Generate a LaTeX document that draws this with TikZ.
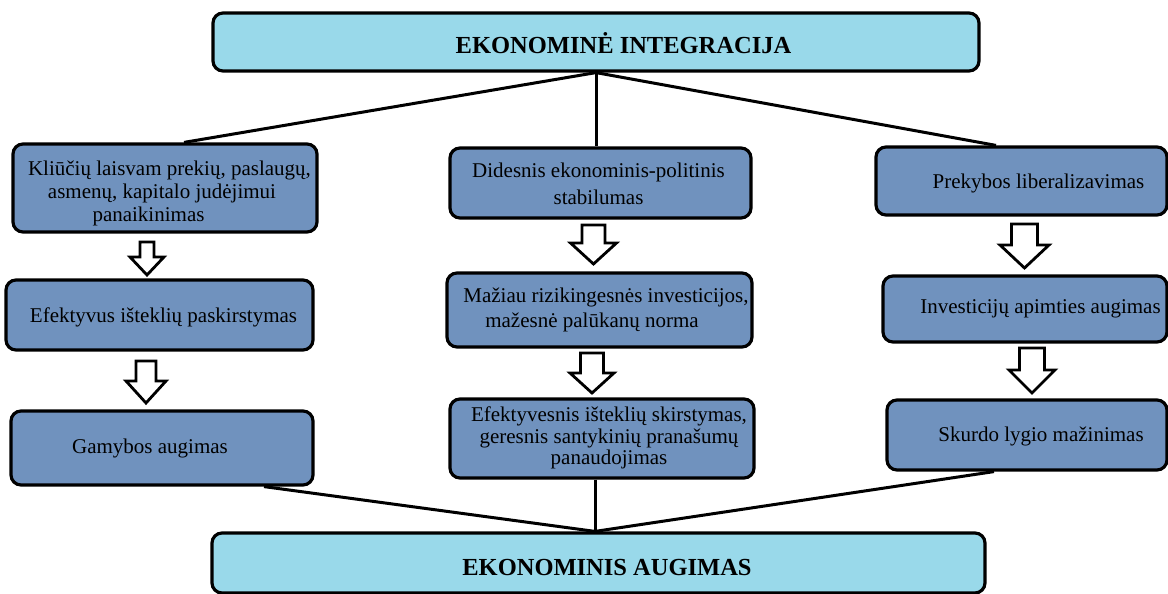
\documentclass[tikz,border=0pt]{standalone}
\usepackage{fontspec}
\setmainfont{Liberation Serif}
\usetikzlibrary{calc}
\definecolor{lightbox}{RGB}{153,217,234}
\definecolor{midbox}{RGB}{112,146,190}
\tikzset{
  bigbox/.style={draw=black, line width=3.2pt, rounded corners=10pt, fill=lightbox, inner sep=0pt},
  smallbox/.style={draw=black, line width=3.2pt, rounded corners=10pt, fill=midbox, inner sep=0pt},
  txt/.style={inner sep=0pt, align=center, font=\fontsize{21}{23}\selectfont},
  ttl/.style={inner sep=0pt, font=\fontsize{24.5}{26}\selectfont\bfseries},
  conn/.style={draw=black, line width=3pt},
  barrowstyle/.style={draw=black, fill=white, line width=2.8pt, line join=miter}
}
\newcommand{\barrow}[6]{%
  \draw[barrowstyle] (#1-#5,#2) -- (#1+#5,#2) -- (#1+#5,#3) -- (#1+#6,#3) -- (#1,#4) -- (#1-#6,#3) -- (#1-#5,#3) -- cycle;}
\begin{document}
\begin{tikzpicture}[x=1pt,y=-1pt]
\useasboundingbox[fill=white] (0,0) rectangle (1168,594);

% boxes
\node[bigbox, minimum width=766pt, minimum height=58pt] (top) at (596,42) {};
\node[bigbox, minimum width=773pt, minimum height=60pt] (bot) at (598.5,563) {};

\node[smallbox, minimum width=304pt, minimum height=88pt] (L1) at (165,188) {};
\node[smallbox, minimum width=307pt, minimum height=70pt] (L2) at (159.5,315) {};
\node[smallbox, minimum width=302pt, minimum height=74pt] (L3) at (162,448) {};

\node[smallbox, minimum width=301pt, minimum height=70pt] (M1) at (600.5,183) {};
\node[smallbox, minimum width=305pt, minimum height=74pt] (M2) at (599.5,310) {};
\node[smallbox, minimum width=304pt, minimum height=79pt] (M3) at (602,438.5) {};

\node[smallbox, minimum width=291pt, minimum height=68pt] (R1) at (1021.5,181) {};
\node[smallbox, minimum width=284pt, minimum height=66pt] (R2) at (1025,309) {};
\node[smallbox, minimum width=280pt, minimum height=70pt] (R3) at (1027,435) {};

% texts
\node[ttl] (topt) at ($(top.center)+(27.5,1)$) {EKONOMINĖ INTEGRACIJA};
\node[ttl] (bott) at ($(bot.center)+(8.5,4.5)$) {EKONOMINIS AUGIMAS};

\node[txt] (L1t) at ($(L1.center)+(-3,5)$) {\hspace*{15pt}Kliūčių laisvam prekių, paslaugų,\\asmenų, kapitalo judėjimui\\panaikinimas\hspace*{27pt}};
\node[txt] (L2t) at ($(L2.center)+(4,2)$) {Efektyvus išteklių paskirstymas};
\node[txt] (L3t) at ($(L3.center)+(-12,0)$) {Gamybos augimas};

\node[txt, font=\fontsize{21}{27}\selectfont] (M1t) at ($(M1.center)+(-2,0.5)$) {Didesnis ekonominis-politinis\\stabilumas};
\node[txt, font=\fontsize{21}{25}\selectfont] (M2t) at ($(M2.center)+(-0.5,-0.5)$) {\hspace*{14pt}Mažiau rizikingesnės investicijos,\\mažesnė palūkanų norma\hspace*{14pt}};
\node[txt, font=\fontsize{21}{21.5}\selectfont] (M3t) at ($(M3.center)+(7,-0.5)$) {Efektyvesnis išteklių skirstymas,\\geresnis santykinių pranašumų\\panaudojimas};

\node[txt] (R1t) at ($(R1.center)+(17,2)$) {Prekybos liberalizavimas};
\node[txt] (R2t) at ($(R2.center)+(15.5,0)$) {Investicijų apimties augimas};
\node[txt] (R3t) at ($(R3.center)+(14,1)$) {Skurdo lygio mažinimas};

% connectors
\coordinate (J) at ([xshift=-3.5pt]bot.north);
\draw[conn] (top.south) -- ([xshift=19pt]L1.north);
\draw[conn] (top.south) -- ([xshift=-4.5pt]M1.north);
\draw[conn] (top.south) -- ([xshift=-25.5pt]R1.north);
\draw[conn] ([xshift=102pt]L3.south) -- (J);
\draw[conn] ([xshift=-7pt]M3.south) -- (J);
\draw[conn] ([xshift=-33pt]R3.south) -- (J);

% block arrows
\barrow{147}{242}{257}{275}{7}{17}
\barrow{146}{361}{381}{403}{10}{20}
\barrow{593.5}{225}{243}{264}{11.5}{23}
\barrow{592}{353}{373}{393}{11.5}{22}
\barrow{1024.5}{224}{245}{268}{13}{24.5}
\barrow{1032}{348}{370}{393}{12.5}{23}
\end{tikzpicture}
\end{document}
